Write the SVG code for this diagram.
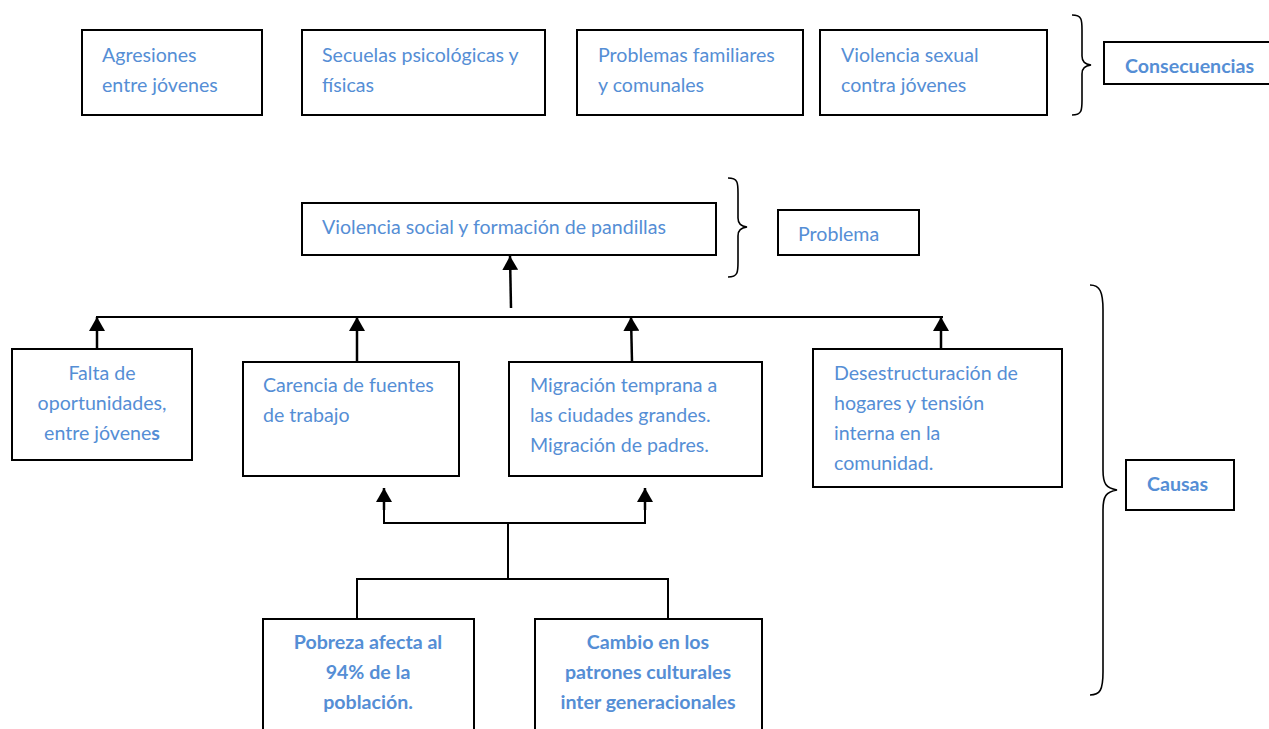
<svg xmlns="http://www.w3.org/2000/svg" width="1269" height="729" viewBox="0 0 1269 729">
<style>
.box{fill:#fff;stroke:#000;stroke-width:2}
.t{font-family:Lato,"Open Sans","Liberation Sans",sans-serif;font-size:19.6px;fill:#558ED5}
.b{font-weight:bold}
.c{text-anchor:middle}
.ln{fill:none;stroke:#000;stroke-width:2}
.ar{fill:none;stroke:#000;stroke-width:2.5;marker-end:url(#ah)}
.br{fill:none;stroke:#000;stroke-width:1.6}
</style>
<defs>
<marker id="ah" markerUnits="userSpaceOnUse" markerWidth="16" markerHeight="16" viewBox="0 0 16 16" refX="14" refY="8" orient="auto">
<path d="M0,0 L14,8 L0,16 Z" fill="#000"/>
</marker>
</defs>
<rect width="1269" height="729" fill="#fff"/>

<g id="connectors">
<line class="ar" x1="511" y1="308" x2="510" y2="256"/>
<line class="ln" x1="96" y1="317" x2="943" y2="317"/>
<line class="ar" x1="97" y1="349" x2="97" y2="317"/>
<line class="ar" x1="357" y1="362" x2="357" y2="317"/>
<line class="ar" x1="632" y1="362" x2="631" y2="317"/>
<line class="ar" x1="941" y1="349" x2="941" y2="317"/>
<polyline class="ln" points="384,506 384,523 645,523 645,506"/>
<line class="ar" x1="384" y1="510" x2="384" y2="488"/>
<line class="ar" x1="645" y1="510" x2="645" y2="488"/>
<line class="ln" x1="508" y1="523" x2="508" y2="579"/>
<polyline class="ln" points="357,619 357,579 668,579 668,619"/>
</g>

<g id="braces">
<path class="br" d="M1072,15 C1082,15 1082,20 1082,30 L1082,56 C1082,62 1085,64 1091,65 C1085,66 1082,68 1082,74 L1082,100 C1082,110 1082,115 1072,115"/>
<path class="br" d="M728,178 C738,178 738,183 738,193 L738,218 C738,224 741,226 747,227 C741,228 738,230 738,236 L738,262 C738,272 738,277 728,277"/>
<path class="br" d="M1090,285 C1100,285 1103,292 1103,310 L1103,470 C1103,484 1106,488 1117,490 C1106,492 1103,496 1103,510 L1103,672 C1103,690 1100,695 1090,695"/>
</g>

<g id="n1"><rect class="box" x="82" y="30" width="180" height="85"/>
<text class="t" x="102" y="62">Agresiones</text><text class="t" x="102" y="92">entre jóvenes</text></g>
<g id="n2"><rect class="box" x="302" y="30" width="243" height="85"/>
<text class="t" x="322" y="62">Secuelas psicológicas y</text><text class="t" x="322" y="92">físicas</text></g>
<g id="n3"><rect class="box" x="577" y="30" width="226" height="85"/>
<text class="t" x="598" y="62">Problemas familiares</text><text class="t" x="598" y="92">y comunales</text></g>
<g id="n4"><rect class="box" x="820" y="30" width="227" height="85"/>
<text class="t" x="841" y="62">Violencia sexual</text><text class="t" x="841" y="92">contra jóvenes</text></g>
<g id="consecuencias"><rect class="box" x="1104" y="42" width="170" height="42"/>
<text class="t b" x="1125" y="73">Consecuencias</text></g>

<g id="problema-central"><rect class="box" x="302" y="203" width="414" height="52"/>
<text class="t" x="322" y="234">Violencia social y formación de pandillas</text></g>
<g id="problema"><rect class="box" x="778" y="210" width="141" height="45"/>
<text class="t" x="798" y="241">Problema</text></g>

<g id="c1"><rect class="box" x="12" y="349" width="180" height="111"/>
<text class="t c" x="102" y="380">Falta de</text><text class="t c" x="102" y="410">oportunidades,</text><text class="t c" x="102" y="440">entre jóvene<tspan class="b">s</tspan></text></g>
<g id="c2"><rect class="box" x="243" y="362" width="216" height="114"/>
<text class="t" x="263" y="392">Carencia de fuentes</text><text class="t" x="263" y="422">de trabajo</text></g>
<g id="c3"><rect class="box" x="509" y="362" width="253" height="114"/>
<text class="t" x="530" y="392">Migración temprana a</text><text class="t" x="530" y="422">las ciudades grandes.</text><text class="t" x="530" y="452">Migración de padres.</text></g>
<g id="c4"><rect class="box" x="813" y="349" width="249" height="138"/>
<text class="t" x="834" y="380">Desestructuración de</text><text class="t" x="834" y="410">hogares y tensión</text><text class="t" x="834" y="440">interna en la</text><text class="t" x="834" y="470">comunidad.</text></g>
<g id="causas"><rect class="box" x="1126" y="460" width="108" height="50"/>
<text class="t b" x="1147" y="491">Causas</text></g>

<g id="r1"><rect class="box" x="263" y="619" width="211" height="120"/>
<text class="t b c" x="368" y="649">Pobreza afecta al</text><text class="t b c" x="368" y="679">94% de la</text><text class="t b c" x="368" y="709">población.</text></g>
<g id="r2"><rect class="box" x="535" y="619" width="227" height="120"/>
<text class="t b c" x="648" y="649">Cambio en los</text><text class="t b c" x="648" y="679">patrones culturales</text><text class="t b c" x="648" y="709">inter generacionales</text></g>
</svg>
